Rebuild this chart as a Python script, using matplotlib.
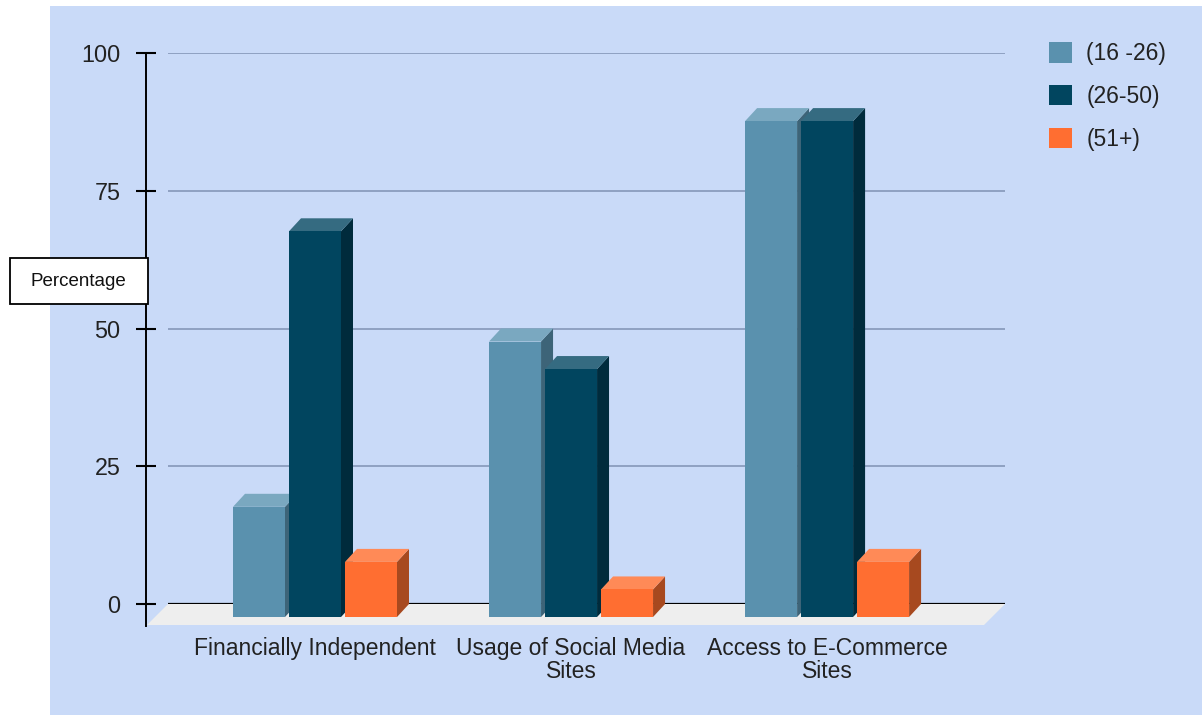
import matplotlib.pyplot as plt
from matplotlib.patches import Polygon, Rectangle, Patch

plt.rcParams['font.family'] = ['Liberation Sans', 'DejaVu Sans']

categories = ['Financially Independent', 'Usage of Social Media\nSites', 'Access to E-Commerce\nSites']
age_groups = ['(16 -26)', '(26-50)', '(51+)']
young = [20, 50, 90]
middle = [70, 45, 90]
senior = [10, 5, 10]
yticks = [0, 25, 50, 75, 100]

# front / top / side shades for each age group
front_colors = ['#5a91ae', '#01455f', '#ff6e31']
top_colors = ['#7aa8c0', '#356b81', '#ff8a57']
side_colors = ['#3d6478', '#002b3c', '#a7491f']

W, H = 1202, 715
fig = plt.figure(figsize=(W / 100, H / 100), dpi=100)
fig.patches.append(Rectangle((50 / W, 0), 1 - 50 / W, (H - 6) / H, transform=fig.transFigure,
                             facecolor='#c9daf8', edgecolor='none', zorder=-5))

ax = fig.add_axes([168 / W, 111 / H, 837 / W, 551 / H])
ax.set_facecolor('none')
xmin, xmax = -0.621, 2.648
ax.set_xlim(xmin, xmax)
ax.set_ylim(0, 100)

# pixel -> data unit conversion for the fake depth
ux = (xmax - xmin) / 837
uy = 100 / 551
dx, dy = 12 * ux, 13 * uy
bar_w = 52 * ux
step = 56 * ux

# floor
fdx, fdy = 21 * ux, 21 * uy
ax.add_patch(Polygon([(xmin, 0), (xmax, 0), (xmax - fdx, -fdy), (xmin - fdx, -fdy)],
                     closed=True, facecolor='#eeeeee', edgecolor='none', clip_on=False, zorder=1))

for t in yticks[1:]:
    ax.axhline(t, color='#8fa1c2', lw=1.4, zorder=0.5)
ax.axhline(0, color='black', lw=1.6, zorder=1.5)

series = [young, middle, senior]
for i in range(len(categories)):
    for j, vals in enumerate(series):
        v = vals[i]
        x0 = i + (j - 1) * step - bar_w / 2
        x1 = x0 + bar_w
        front = [(x0 - dx, -dy), (x1 - dx, -dy), (x1 - dx, v - dy), (x0 - dx, v - dy)]
        top = [(x0 - dx, v - dy), (x1 - dx, v - dy), (x1, v), (x0, v)]
        side = [(x1 - dx, -dy), (x1, 0), (x1, v), (x1 - dx, v - dy)]
        for pts, c in [(side, side_colors[j]), (top, top_colors[j]), (front, front_colors[j])]:
            ax.add_patch(Polygon(pts, closed=True, facecolor=c, edgecolor='none',
                                 clip_on=False, zorder=2))

for s in ['top', 'right', 'bottom']:
    ax.spines[s].set_visible(False)
ax.spines['left'].set_position(('outward', 22 * 0.72))
ax.spines['left'].set_bounds(-22 * uy, 100)
ax.spines['left'].set_linewidth(1.4)

ax.set_yticks(yticks)
ax.tick_params(axis='y', direction='inout', length=15, width=1.5, pad=10.8,
               labelsize=16.8, labelcolor='#222222')
ax.set_xticks([i - dx for i in range(len(categories))], categories)
ax.tick_params(axis='x', length=0, pad=24, labelsize=16.5, labelcolor='#222222')
for lbl in ax.get_xticklabels():
    lbl.set_linespacing(1.0)

# axis title box
fig.patches.append(Rectangle((10 / W, 1 - 304 / H), 138 / W, 46 / H, transform=fig.transFigure,
                             facecolor='white', edgecolor='black', lw=1.3, zorder=3))
fig.text(78 / W, 1 - 281 / H, 'Percentage', ha='center', va='center', fontsize=13.5,
         color='#111111', zorder=4)

handles = [Patch(facecolor=c, edgecolor='none') for c in front_colors]
fig.legend(handles, age_groups, loc='upper left', bbox_to_anchor=(1049 / W, 1 - 42 / H),
           frameon=False, fontsize=16.5, handlelength=1.0, handleheight=1.0,
           handletextpad=0.62, labelspacing=0.86, borderpad=0, borderaxespad=0,
           labelcolor='#222222')

fig.savefig('out.png', dpi=100)
